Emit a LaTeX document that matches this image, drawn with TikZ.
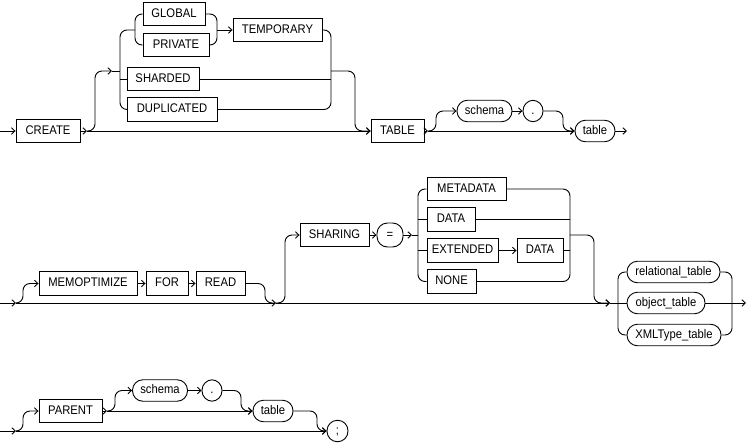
\documentclass[tikz,border=0pt]{standalone}
\usepackage{fontspec}
\setmainfont{Liberation Sans}[FakeStretch=0.9]
\usetikzlibrary{arrows.meta}
\begin{document}
\begin{tikzpicture}[x=1pt,y=-1pt, line width=0.9pt,
  kw/.style={draw, inner sep=0pt, minimum height=23.5pt, text height=9pt, text depth=2.4pt, font=\fontsize{12.5}{14}\selectfont},
  tm/.style={draw, rounded corners=10.5pt, inner sep=0pt, minimum height=21.5pt, text height=9pt, text depth=2.4pt, font=\fontsize{12.5}{14}\selectfont},
  rc/.style={rounded corners=7pt},
  ar/.style={-{Straight Barb[length=3.5pt,width=6.5pt]}}]
\useasboundingbox (0,0) rectangle (749,444);
% ---------- row 1 ----------
\node[kw, minimum width=64pt] (create) at (48,131) {CREATE};
\node[kw, minimum width=62pt] (global) at (174,14) {GLOBAL};
\node[kw, minimum width=66pt] (private) at (176,45) {PRIVATE};
\node[kw, minimum width=89pt] (temporary) at (277.5,30) {TEMPORARY};
\node[kw, minimum width=72pt] (sharded) at (163,79) {SHARDED};
\node[kw, minimum width=90pt] (duplicated) at (172,109.5) {DUPLICATED};
\node[kw, minimum width=53pt] (tablekw) at (397.5,131) {TABLE};
\node[tm, minimum width=55pt] (schemaA) at (484.5,111) {schema};
\node[tm, minimum width=20pt] (dotA) at (533,111) {.};
\node[tm, minimum width=40pt] (tableA) at (595,131) {table};
\coordinate (s1) at (0,131);
\coordinate (j1) at (87,131);
\coordinate (g1) at (112,71);
\coordinate (j2) at (428,131);
\coordinate (e1) at (627,131);

\draw[ar] (s1) -- (create.west);
\draw[ar] (create.east) -- (j1);
\draw[ar] (j1) -- (tablekw.west);
\draw[rc,ar] (j1) -| (95,71) -- (g1);
\draw (g1) -- (120,71);
\draw[rc] (135,30) -| (120,109.5) -- (duplicated.west);
\draw (120,79) -- (sharded.west);
\draw[rc] (global.west) -| (135,45) -- (private.west);
\draw[rc] (global.east) -| (217,45) -- (private.east);
\draw[ar] (217,30) -- (temporary.west);
\draw[rc] (temporary.east) -| (331,109.5) -- (duplicated.east);
\draw (sharded.east) -- (331,79);
\draw[rc,ar] (331,71) -| (355,131) -- (tablekw.west);
\draw[ar] (tablekw.east) -- (j2);
\draw[ar] (j2) -- (tableA.west);
\draw[rc,ar] (j2) -| (436,111) -- (schemaA.west);
\draw[ar] (schemaA.east) -- (dotA.west);
\draw[rc,ar] (dotA.east) -| (563,131) -- (tableA.west);
\draw[ar] (tableA.east) -- (e1);
% ---------- row 2 ----------
\node[kw, minimum width=98pt] (memo) at (88,283.5) {MEMOPTIMIZE};
\node[kw, minimum width=42pt] (for) at (167,283.5) {FOR};
\node[kw, minimum width=49pt] (read) at (220.5,283.5) {READ};
\node[kw, minimum width=69pt] (sharing) at (334.5,235) {SHARING};
\node[tm, minimum width=26pt, minimum height=24pt] (eq) at (390,235) {=};
\node[kw, minimum width=79pt] (metadata) at (466.5,189) {METADATA};
\node[kw, minimum width=48pt] (dataA) at (451,219.5) {DATA};
\node[kw, minimum width=71pt] (extended) at (462.5,250.5) {EXTENDED};
\node[kw, minimum width=46pt] (dataB) at (540,250.5) {DATA};
\node[kw, minimum width=49pt] (none) at (451.5,281.5) {NONE};
\node[tm, minimum width=93pt] (relational) at (673.5,272) {relational\_table};
\node[tm, minimum width=78pt] (object) at (666,303) {object\_table};
\node[tm, minimum width=94pt] (xmltype) at (674,335) {XMLType\_table};
\coordinate (s2) at (0,303);
\coordinate (k1) at (16,303);
\coordinate (k2) at (276,303);
\coordinate (k3) at (610,303);
\coordinate (k4) at (412,235);
\coordinate (e2) at (746,303);

\draw[ar] (s2) -- (k1);
\draw[ar] (k1) -- (k2);
\draw[rc,ar] (k1) -| (23,283.5) -- (memo.west);
\draw[ar] (memo.east) -- (for.west);
\draw[ar] (for.east) -- (read.west);
\draw[rc] (read.east) -| (265,303) -- (k2);
\draw[ar] (k2) -- (k3);
\draw (k3) -- (object.west);
\draw[rc,ar] (k2) -| (285,235) -- (sharing.west);
\draw[ar] (sharing.east) -- (eq.west);
\draw[ar] (eq.east) -- (k4);
\draw (k4) -- (418,235);
\draw[rc] (metadata.west) -| (418,281.5) -- (none.west);
\draw (418,219.5) -- (dataA.west);
\draw (418,250.5) -- (extended.west);
\draw[rc] (metadata.east) -| (570,281.5) -- (none.east);
\draw (dataA.east) -- (570,219.5);
\draw[ar] (extended.east) -- (dataB.west);
\draw (dataB.east) -- (570,250.5);
\draw[rc,ar] (570,235) -| (594,303) -- (k3);
\draw[rc] (relational.west) -| (618,335) -- (xmltype.west);
\draw[rc] (relational.east) -| (732,335) -- (xmltype.east);
\draw[ar] (object.east) -- (e2);
% ---------- row 3 ----------
\node[kw, minimum width=63pt] (parent) at (70.5,411) {PARENT};
\node[tm, minimum width=55pt] (schemaB) at (160,390.5) {schema};
\node[tm, minimum width=20pt] (dotB) at (212,390.5) {.};
\node[tm, minimum width=40pt] (tableB) at (273,411) {table};
\node[tm, minimum width=21pt] (semi) at (337.5,431) {;};
\coordinate (s3) at (0,431);
\coordinate (m1) at (16,431);
\coordinate (m2) at (107,411);

\draw[ar] (s3) -- (m1);
\draw[ar] (m1) -- (semi.west);
\draw[rc,ar] (m1) -| (23,411) -- (parent.west);
\draw[ar] (parent.east) -- (m2);
\draw[ar] (m2) -- (tableB.west);
\draw[rc,ar] (m2) -| (115,390.5) -- (schemaB.west);
\draw[ar] (schemaB.east) -- (dotB.west);
\draw[rc,ar] (dotB.east) -| (241,411) -- (tableB.west);
\draw[rc,ar] (tableB.east) -| (317,431) -- (semi.west);
\end{tikzpicture}
\end{document}
